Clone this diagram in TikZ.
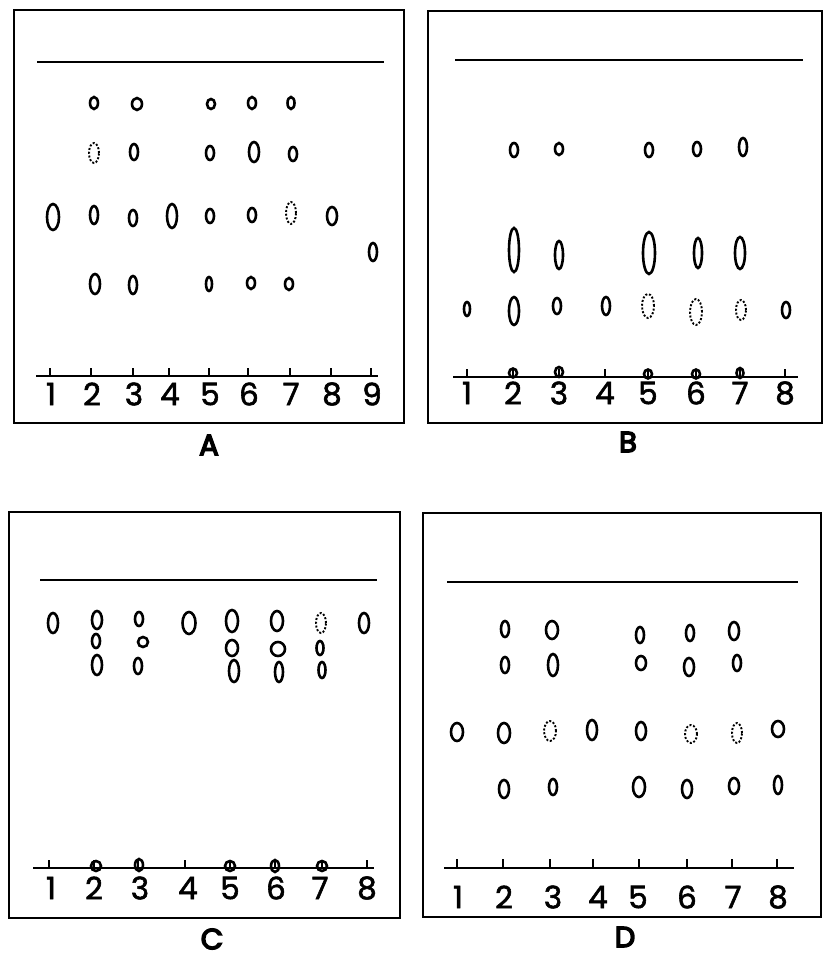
\documentclass[tikz,border=0pt]{standalone}
\usepackage{fontspec}
\setmainfont{Poppins}
\newfontfamily\numfont{Poppins}[FakeBold=1.8]
\newfontfamily\labfont{Poppins}[FakeBold=5]
\newcommand\spt[4]{\draw[spotline] (#1,#2) ellipse [x radius=#3pt, y radius=#4pt];}
\newcommand\spd[4]{\draw[spotdash] (#1,#2) ellipse [x radius=#3pt, y radius=#4pt];}
\begin{document}
\begin{tikzpicture}[x=1pt,y=-1pt,
  plate/.style={line width=1.4pt},
  front/.style={line width=2.6pt},
  base/.style={line width=2.6pt},
  tickmark/.style={line width=1.1pt},
  spotline/.style={line width=2.6pt},
  spotdash/.style={line width=1.9pt, dash pattern=on 2pt off 1.8pt},
  num/.style={font=\numfont\fontsize{31}{31}\selectfont, inner sep=0pt},
  plabel/.style={font=\labfont\fontsize{29}{29}\selectfont, inner sep=0pt}]
\useasboundingbox (0,0) rectangle (823,959);

% ================= Panel A =================
\draw[plate] (14,10) rectangle (404,423);
\draw[front] (37,62) -- (384,62);
\draw[base] (36,376) -- (378,376);
\foreach \x/\n in {50/1,91/2,133/3,169/4,209/5,248/6,290/7,331/8,371/9}{
  \draw[tickmark] (\x,368) -- (\x,376);
  \node[num] (A-\n) at (\x+1,394) {\n};
}
\node[plabel] (labA) at (209,445) {A};
% row 1
\spt{94}{103}{4}{6} \spt{137}{104}{5}{6} \spt{211}{104}{4}{5} \spt{252}{103}{4}{6} \spt{291}{103}{3.5}{6}
% row 2
\spd{94}{153}{5}{10} \spt{134}{152}{4}{8} \spt{210}{153}{4}{7} \spt{254}{152}{5}{10} \spt{293}{154}{4}{7}
% row 3
\spt{53}{217}{6}{13} \spt{94}{215}{4}{9} \spt{133}{218}{4}{8} \spt{172}{216}{5}{12} \spt{210}{216}{4}{7}
\spt{252}{215}{4}{7} \spd{291}{213}{5}{11} \spt{332}{216}{5}{9}
\spt{373}{252}{4}{9}
% row 4
\spt{95}{284}{5}{10} \spt{133}{285}{4}{9} \spt{209}{284}{3}{7} \spt{251}{283}{4}{6} \spt{289}{284}{4}{6}

% ================= Panel B =================
\draw[plate] (428,11) rectangle (822,423);
\draw[front] (455,60) -- (803,60);
\draw[base] (453,377) -- (798,377);
\foreach \x/\n in {467/1,513/2,559/3,605/4,648/5,696/6,740/7,785/8}{
  \draw[tickmark] (\x,369) -- (\x,377);
  \node[num] (B-\n) at (\x,393) {\n};
}
\node[plabel] (labB) at (628,442) {B};
% row 1
\spt{514}{150}{4}{7} \spt{559}{149}{4}{6} \spt{649}{150}{4}{7} \spt{697}{149}{4}{7} \spt{743}{147}{4}{9}
% row 2
\spt{514}{250}{5}{22} \spt{559}{255}{4}{14} \spt{649}{253}{6}{21} \spt{698}{253}{4}{15} \spt{740}{253}{5}{16}
% row 3
\spt{467}{309}{3}{7} \spt{514}{311}{5}{14} \spt{557}{306}{4}{8} \spt{606}{306}{4}{9}
\spd{648}{306}{6}{12} \spd{696}{312}{6}{13} \spd{741}{310}{5}{10} \spt{786}{310}{4}{8}
% origin spots
\spt{513}{373}{4}{4.5} \spt{559}{372}{4}{5} \spt{648}{374}{4}{4.5} \spt{696}{374}{4}{4.5} \spt{740}{373}{3.5}{5}

% ================= Panel C =================
\draw[plate] (9,512) rectangle (400,918);
\draw[front] (40,580) -- (377,580);
\draw[base] (33,868) -- (374,868);
\foreach \x/\n/\t in {49/1/51,94/2/94,138/3/140,185/4/188,230/5/230,275/6/276,322/7/320,367/8/367}{
  \draw[tickmark] (\x,860) -- (\x,868);
  \node[num] (C-\n) at (\t,888) {\n};
}
\node[plabel] (labC) at (212,939) {C};
% row 1
\spt{53}{623}{5}{10} \spt{97}{620}{5}{9} \spt{139}{619}{4}{7} \spt{189}{623}{6.5}{11} \spt{232}{621}{6}{11}
\spt{277}{621}{6}{10} \spd{321}{623}{5}{10} \spt{364}{623}{5}{10}
% row 2
\spt{96}{641}{4}{7} \spt{143}{642}{5}{5} \spt{232}{648}{6}{8} \spt{278}{649}{7}{7} \spt{320}{648}{3.5}{7}
% row 3
\spt{97}{665}{5}{10} \spt{138}{666}{4}{8} \spt{234}{671}{5}{11} \spt{279}{672}{4}{10} \spt{322}{670}{3.5}{8}
% origin spots
\spt{96}{866}{5}{5} \spt{139}{865}{4}{6} \spt{230}{866}{5}{5} \spt{275}{866}{4}{6} \spt{322}{866}{5}{5}

% ================= Panel D =================
\draw[plate] (423,513) rectangle (821,917);
\draw[front] (447,582) -- (798,582);
\draw[base] (444,868) -- (794,868);
\foreach \x/\n/\t in {457/1/458,503/2/504,550/3/553,593/4/598,639/5/638,687/6/687,732/7/733,777/8/778}{
  \draw[tickmark] (\x,859) -- (\x,868);
  \node[num] (D-\n) at (\t,897) {\n};
}
\node[plabel] (labD) at (625,937) {D};
% row 1
\spt{505}{629}{4}{8} \spt{552}{630}{6}{9} \spt{640}{635}{4}{8} \spt{690}{633}{4}{8} \spt{734}{631}{5}{9}
% row 2
\spt{505}{665}{4}{8} \spt{553}{665}{5}{11} \spt{641}{663}{5}{7} \spt{689}{667}{5}{9} \spt{737}{663}{4}{8}
% row 3
\spt{457}{732}{6}{9} \spt{504}{733}{6}{10} \spd{550}{731}{6}{10} \spt{592}{730}{5}{10}
\spt{641}{731}{5}{9} \spd{691}{734}{6}{9} \spd{737}{733}{5}{10} \spt{778}{729}{6}{8}
% row 4
\spt{504}{789}{5}{9} \spt{553}{787}{4}{8} \spt{639}{787}{6}{10} \spt{687}{789}{5}{9} \spt{734}{786}{5}{8} \spt{778}{785}{4}{9}
\end{tikzpicture}
\end{document}
